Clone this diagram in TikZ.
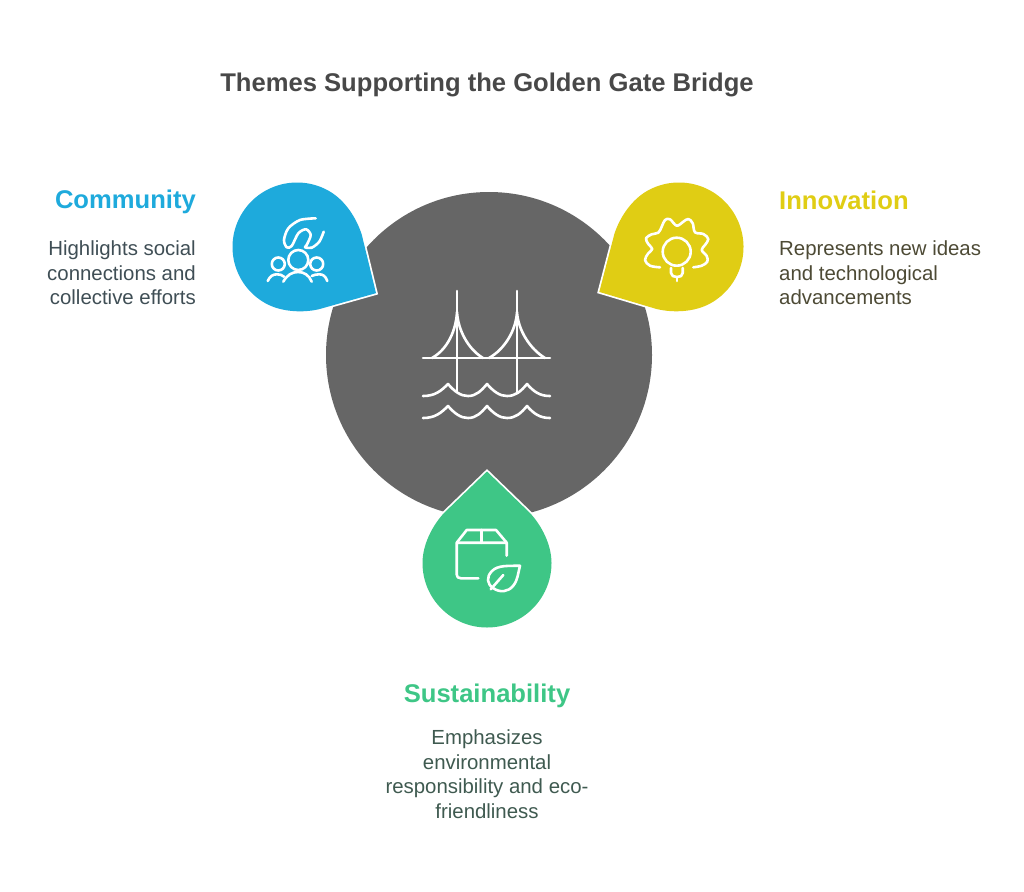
\documentclass[tikz,border=0pt]{standalone}
\usepackage{fontspec}
\setmainfont{Liberation Sans}
\definecolor{hubgrey}{HTML}{666666}
\definecolor{titlegrey}{HTML}{484848}
\definecolor{commblue}{HTML}{1EAADC}
\definecolor{innoyellow}{HTML}{E0CD14}
\definecolor{sustgreen}{HTML}{3EC686}
\definecolor{commtext}{HTML}{3F4E55}
\definecolor{innotext}{HTML}{4D4A35}
\definecolor{susttext}{HTML}{3F5A50}
\tikzset{
    glyph/.style={draw=white, line width=2.6pt, line cap=round, line join=round},
    headline/.style={font=\fontsize{25.6}{30}\selectfont\bfseries, inner sep=0pt, anchor=base},
    blurb/.style={font=\fontsize{20.4}{24.5}\selectfont, inner sep=0pt}
}
\begin{document}
\begin{tikzpicture}[x=1pt, y=-1pt]
    \useasboundingbox (0,0) rectangle (1024,891);

    % Title
    \node[headline, text=titlegrey] (title) at (487,91) {Themes Supporting the Golden Gate Bridge};

    % Central disc
    \node[circle, fill=hubgrey, minimum size=326pt, inner sep=0pt, outer sep=0pt] (hub) at (489,355) {};

    % Droplets, x axis of each scope points at the tip
    \foreach \col/\cx/\cy/\ang in {commblue/297/247/-30.3, innoyellow/679/247/-150.6, sustgreen/487/563/90} {
        \begin{scope}[shift={(\cx,\cy)}, rotate=\ang]
            \fill[\col, preaction={draw=white, line width=3.5pt}] (91.5,0) -- (50,43)
                .. controls (37,55) and (18,64.5) .. (0,64.5)
                arc[start angle=90, end angle=270, radius=64.5]
                .. controls (18,-64.5) and (37,-55) .. (50,-43) -- cycle;
        \end{scope}
    }

    % Bridge
    \draw[glyph] (457,291) -- (457,392);
    \draw[glyph] (517,291) -- (517,393);
    \draw[glyph] (423,358) -- (550,358);
    \draw[glyph] (432,358) .. controls (448,349) and (456,330) .. (457,312) .. controls (458,330) and (468,349) .. (483,358);
    \draw[glyph] (489,358) .. controls (505,349) and (516,330) .. (517,312) .. controls (518,330) and (530,349) .. (545,358);
    \foreach \dy in {0,22} {
        \draw[glyph, yshift=-\dy pt] (423,396) .. controls (435,396) and (441,391) .. (448,384)
            .. controls (455,392) and (461,396) .. (468,396) .. controls (476,396) and (481,391) .. (487,384)
            .. controls (494,392) and (500,396) .. (507,396) .. controls (516,396) and (521,391) .. (527,384)
            .. controls (534,392) and (540,396) .. (550,396);
    }

    % Community icon
    \draw[glyph] (298.3,260) circle (10);
    \draw[glyph] (278.3,264) circle (6.5);
    \draw[glyph] (316.7,264) circle (6.5);
    \draw[glyph] (283.3,281.7) .. controls (287,275) and (292,272) .. (298,272) .. controls (304,272) and (309,275) .. (311.7,281.7);
    \draw[glyph] (267.7,281) .. controls (270,276) and (273,274.3) .. (277,274.3) .. controls (280,274.3) and (282,275) .. (284,276.7);
    \draw[glyph] (311.7,276) .. controls (314,275) and (316,274.3) .. (319,274.3) .. controls (323,274.3) and (325.5,276) .. (327.3,281);
    \draw[glyph] plot[smooth, tension=0.5] coordinates {(315.7,218.3) (300,220) (288.3,228.3) (284,240) (286.7,247.3) (291.7,246) (298.3,233.3) (306,229.3) (310.7,235) (306.7,245) (305,247.3) (311.7,247.7) (319.3,241.7) (323.7,231.7)};

    % Innovation icon
    \draw[glyph] (676.7,251.7) circle (14);
    \draw[glyph] (671,268) -- (671,273) .. controls (671,276) and (674,277) .. (677,277) .. controls (680,277) and (682.7,276) .. (682.7,273) -- (682.7,268);
    \draw[glyph] (677,277) -- (677,281);
    \draw[glyph] plot[smooth, tension=0.6] coordinates {(660,267.3) (650,265.7) (645,260) (648.3,253.3) (652.3,249) (648.3,244) (646,238.3) (651.7,234.3) (658.3,232.7) (661.7,226.7) (665,220) (670,219.3) (676.7,225.7) (683.3,221.7) (688.3,219) (692.7,223.3) (695,232.3) (703.3,234) (708.3,239) (705,245) (701.7,250) (706.7,256) (707.3,261.7) (701.7,265.7) (693.3,267.3)};

    % Sustainability icon
    \draw[glyph] (506.7,555.7) -- (506.7,542.7) -- (456.7,542.7) -- (456.7,574.3) .. controls (456.7,577) and (458,578.3) .. (461,578.3) -- (478.3,578.3);
    \draw[glyph] (456.7,542.7) -- (466.7,530) -- (496,530) -- (506.7,542.7);
    \draw[glyph] (481.7,530) -- (481.7,542.7);
    \draw[glyph] (520,565.7) .. controls (508,566) and (498,565) .. (492,571) .. controls (486,577) and (487,584) .. (493,588) .. controls (500,593) and (508,592) .. (513,586) .. controls (518,580) and (518,573) .. (520,565.7);
    \draw[glyph] (490.7,589.3) -- (503.3,575);

    % Community label
    \node[headline, text=commblue, anchor=base east] (commHead) at (196,208.5) {Community};
    \node[blurb, text=commtext, align=right, anchor=north east] (commText) at (196,241) {Highlights social\\connections and\\collective efforts};

    % Innovation label
    \node[headline, text=innoyellow, anchor=base west] (innoHead) at (779,209) {Innovation};
    \node[blurb, text=innotext, align=left, anchor=north west] (innoText) at (779,241) {Represents new ideas\\and technological\\advancements};

    % Sustainability label
    \node[headline, text=sustgreen] (sustHead) at (487,702.5) {Sustainability};
    \node[blurb, text=susttext, align=center, anchor=north] (sustText) at (487,730) {Emphasizes\\environmental\\responsibility and eco-\\friendliness};
\end{tikzpicture}
\end{document}
